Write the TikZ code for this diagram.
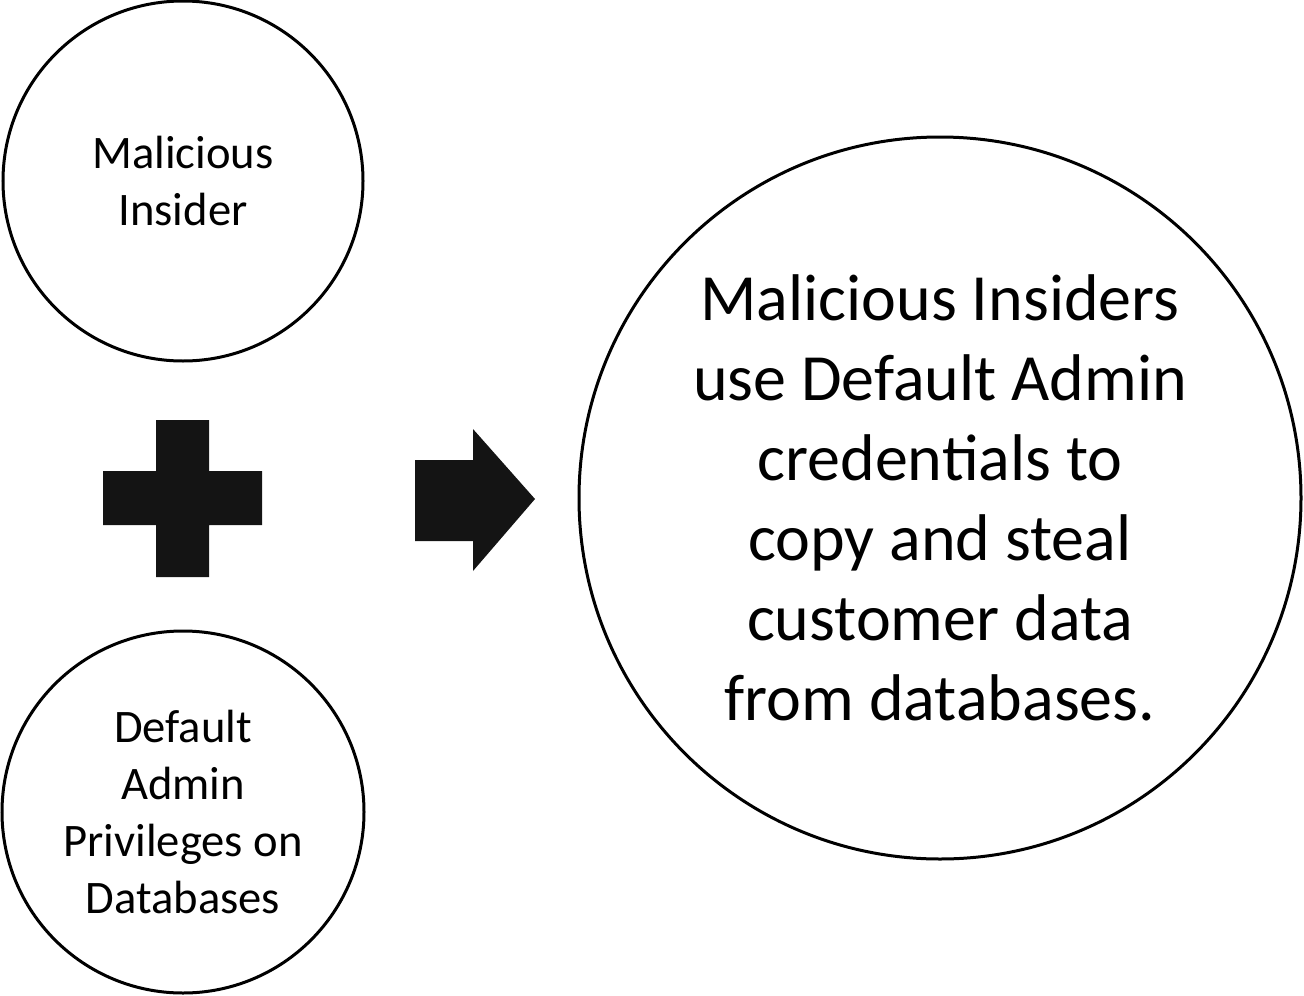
\documentclass[tikz,border=0pt]{standalone}
\usepackage{fontspec}
\setmainfont{Carlito}
\begin{document}
\begin{tikzpicture}[x=1pt,y=-1pt,
  bubble/.style={circle, draw=black, line width=3pt, inner sep=0pt, align=center, text=black},
  smalltext/.style={font=\fontsize{46.6}{57}\selectfont},
  bigtext/.style={font=\fontsize{66}{80}\selectfont},
  solidshape/.style={fill=black!92, draw=none}]
\useasboundingbox (0,0) rectangle (1304,996);
\node[bubble, smalltext, minimum size=360pt] (insider) at (183,181) {Malicious\\Insider};
\node[bubble, smalltext, minimum size=362pt] (privs) at (183,812) {Default\\Admin\\Privileges on\\Databases};
\node[bubble, bigtext, minimum size=722pt] (result) at (940,498) {Malicious Insiders\\use Default Admin\\credentials to\\copy and steal\\customer data\\from databases.};
% plus sign
\fill[solidshape] (156,420) -- (209,420) -- (209,471) -- (262,471) -- (262,525) -- (209,525) -- (209,577) -- (156,577) -- (156,525) -- (103,525) -- (103,471) -- (156,471) -- cycle;
% block arrow
\fill[solidshape] (415,460) -- (473,460) -- (473,429) -- (535,499) -- (473,571) -- (473,541) -- (415,541) -- cycle;
\end{tikzpicture}
\end{document}
